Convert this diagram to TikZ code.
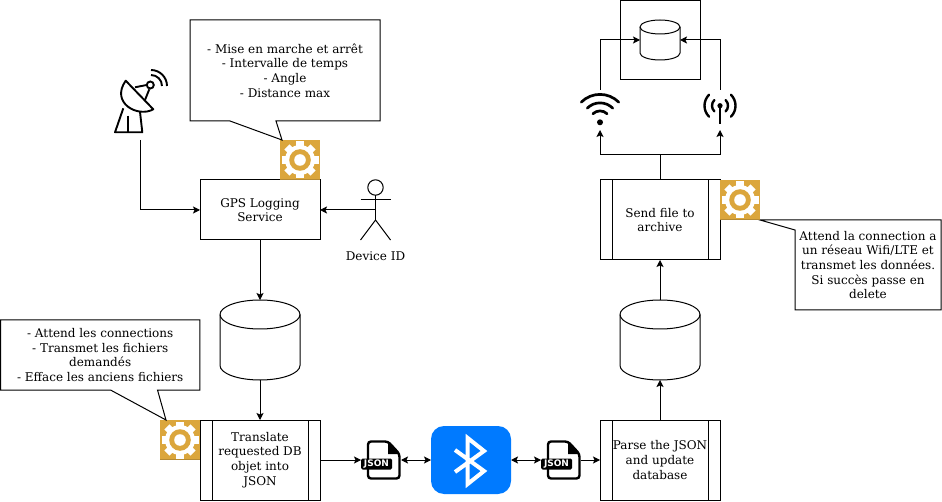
\documentclass[tikz,border=0pt]{standalone}
\usepackage{fontspec}
\setmainfont{DejaVu Serif}
\setsansfont{DejaVu Sans}
\usetikzlibrary{positioning,arrows.meta}
\definecolor{gearfill}{HTML}{DBA63C}
\definecolor{gearedge}{HTML}{B58A34}
\definecolor{btblue}{HTML}{007AFF}
\newcommand{\dbshape}[3]{
	\draw ([yshift=-#3]#1.north west) arc [start angle=180, end angle=0, x radius=#2, y radius=#3] -- ([yshift=#3]#1.south east) arc [start angle=0, end angle=-180, x radius=#2, y radius=#3] -- cycle;
	\draw ([yshift=-#3]#1.north west) arc [start angle=180, end angle=360, x radius=#2, y radius=#3];
}
\tikzset{
	>={Stealth[length=7pt,width=7pt,inset=1.5pt]},
	txt/.style={font=\fontsize{12}{14.7}\selectfont, align=center, inner sep=0pt, outer sep=0pt, execute at begin node={\rule{0pt}{11.5pt}}},
	plainbox/.style={txt, draw, minimum width=120pt, minimum height=60pt},
	procbox/.style={plainbox, minimum height=80pt, path picture={
		\draw ([xshift=12pt]path picture bounding box.north west) -- ([xshift=12pt]path picture bounding box.south west);
		\draw ([xshift=-12pt]path picture bounding box.north east) -- ([xshift=-12pt]path picture bounding box.south east);
	}},
	notebox/.style={txt},
	iconbox/.style={inner sep=0pt, outer sep=0pt, minimum width=#1, minimum height=40pt},
	dbbox/.style={iconbox=80pt, minimum height=80pt},
	gearbox/.style={inner sep=0pt, outer sep=0pt, minimum size=40pt, fill=gearfill},
	gearicon/.pic={
		\draw [gearedge] (-20,19.5) -- (20,19.5);
		\foreach \ang in {0,45,...,315}
			\fill [white, rotate=\ang] (-3.6,-18.5) rectangle (3.6,-12);
		\fill [white] (0,0) circle [radius=15pt];
		\fill [gearfill] (0,0) circle [radius=10.8pt];
		\fill [white] (0,0) circle [radius=5.8pt];
	},
	dishicon/.pic={
		\draw [line width=1.9pt, line join=round] (13.3,9.3) .. controls (-2,18) and (-30,3) .. (-14.3,-19.3) -- cycle;
		\draw [line width=1.9pt] (-5,-12.7) -- (6.7,-15);
		\draw [line width=1.9pt] (5,0) -- (9.3,-10.7);
		\draw [line width=1.9pt] (10.3,-15) circle [radius=3.5pt];
		\draw [line width=1.9pt, line join=round] (-16.7,8.3) -- (-25,32.3) -- (2.3,32.3) -- (0,11.7);
		\draw [line width=1.9pt] (-11.7,15.7) -- (-11.7,32.3);
		\foreach \rad in {11,16}
			\draw [line width=1.9pt] ([shift={(0:\rad pt)}]11,-14) arc [start angle=0, end angle=90, radius=\rad pt];
	},
	actoricon/.pic={
		\draw (0,-22.5) circle [radius=7.7pt];
		\draw (0,-14.8) -- (0,10);
		\draw (-15,-10) -- (15,-10);
		\draw (-15,30) -- (0,10) -- (15,30);
	},
	jsonicon/.pic={
		\draw [line width=2.4pt, rounded corners=3pt] (-13,-18.5) -- (7,-18.5) -- (18.5,-6) -- (18.5,18.5) -- (-13,18.5) -- cycle;
		\fill [line join=round] (7,-18.5) -- (7,-6) -- (18.5,-6) -- cycle;
		\node [fill=black, rounded corners=1.5pt, inner sep=0pt, minimum width=31pt, minimum height=11pt, text=white, font=\sffamily\bfseries\fontsize{9}{9}\selectfont] (tag) at (-4.5,4) {JSON};
	},
	bticon/.pic={
		\draw [white, line width=4pt, miter limit=4] (-16,-10) -- (13,11) -- (-3.3,24) -- (-3.3,-22) -- (13,-9) -- (-16,12);
	},
	wifiicon/.pic={
		\foreach \rad in {26.5,18,10}
			\draw [line width=2.7pt, line cap=round] ([shift={(45:\rad pt)}]0,10.9) arc [start angle=45, end angle=135, radius=\rad pt];
		\fill (0,12.3) circle [radius=3pt];
	},
	anticon/.pic={
		\foreach \rad in {8,15.5} {
			\draw [line width=2.4pt, line cap=round] ([shift={(-45:\rad pt)}]0,-4.3) arc [start angle=-45, end angle=45, radius=\rad pt];
			\draw [line width=2.4pt, line cap=round] ([shift={(135:\rad pt)}]0,-4.3) arc [start angle=135, end angle=225, radius=\rad pt];
		}
		\fill (0,-4.3) circle [radius=2.6pt];
		\draw [line width=2pt] (0,-4.3) -- (0,14);
	},
}

\begin{document}
\begin{tikzpicture}[x=1pt, y=-1pt, line width=1pt]
	\useasboundingbox (0,0) rectangle (942,502);

	\node [plainbox] (GPS) at (260,210) {GPS Logging\\Service};
	\node [dbbox, below=60pt of GPS] (DBa) {};
	\node [procbox, below=40pt of DBa] (translate) {Translate\\requested DB\\objet into\\JSON};
	\node [iconbox=40pt, right=41pt of translate] (jsonA) {};
	\node [iconbox=80pt, minimum height=68pt, fill=btblue, rounded corners=13pt, right=30pt of jsonA] (bt) {};
	\node [iconbox=40pt, right=30pt of bt] (jsonB) {};
	\node [procbox, right=19pt of jsonB] (parse) {Parse the JSON\\and update\\database};
	\node [dbbox, above=40pt of parse] (DBb) {};
	\node [procbox, above=40pt of DBb] (send) {Send file to\\archive};

	\node [gearbox, above left=0pt of GPS.north east] (gearA) {};
	\node [gearbox, below left=0pt of translate.north west] (gearB) {};
	\node [gearbox, below right=0pt of send.north east] (gearC) {};

	\node [iconbox=60pt, minimum height=80pt] (dish) at (140,100) {};
	\node [iconbox=30pt, minimum height=60pt] (actor) at (375.5,210) {};
	\node [txt, below=9pt of actor] (actorlabel) {Device ID};

	\node [iconbox=40pt] (wifi) at (600,110) {};
	\node [iconbox=40pt] (antenna) at (720,110) {};
	\node [draw, minimum width=80pt, minimum height=79.4pt, inner sep=0pt, outer sep=0pt] (archive) at (660,40) {};
	\node [iconbox=40pt] (DBc) at (archive) {};
	\coordinate (split) at (660,155);

	\node [notebox, minimum width=190pt, minimum height=101pt] (noteA) at (285,70.5) {- Mise en marche et arrêt\\- Intervalle de temps\\- Angle\\- Distance max};
	\node [notebox, minimum width=199.4pt, minimum height=70pt] (noteB) at (100.2,355) {- Attend les connections\\- Transmet les fichiers\\demandés\\- Efface les anciens fichiers};
	\node [notebox, minimum width=146pt, minimum height=90pt] (noteC) at (868,265) {Attend la connection a\\un réseau Wifi/LTE et\\transmet les données.\\Si succès passe en\\delete};

	\draw (noteA.south west) -- (noteA.north west) -- (noteA.north east) -- (noteA.south east) -- ([xshift=86pt]noteA.south west) -- ([xshift=2pt]gearA.north west) -- ([xshift=40pt]noteA.south west) -- cycle;
	\draw (noteB.south west) -- (noteB.north west) -- (noteB.north east) -- (noteB.south east) -- ([xshift=157pt]noteB.south west) -- ([xshift=6pt]gearB.north west) -- ([xshift=110pt]noteB.south west) -- cycle;
	\draw (gearC.south east) -- (noteC.north east) -- (noteC.south east) -- (noteC.south west) -- ([yshift=-10pt]noteC.north west) -- cycle;

	\dbshape{DBa}{40pt}{14.5pt}
	\dbshape{DBb}{40pt}{14.5pt}
	\dbshape{DBc}{20pt}{7pt}

	\pic at (gearA) {gearicon};
	\pic at (gearB) {gearicon};
	\pic at (gearC) {gearicon};
	\pic at (dish) {dishicon};
	\pic at (actor) {actoricon};
	\pic (jsonA) at (jsonA) {jsonicon};
	\pic (jsonB) at (jsonB) {jsonicon};
	\pic at (bt) {bticon};
	\pic at (wifi) {wifiicon};
	\pic at (antenna) {anticon};

	\draw [->] (dish.south) |- (GPS.west);
	\draw [->] (actor.center) to (GPS);
	\draw [->] (GPS) to (DBa);
	\draw [->] (DBa) to (translate);
	\draw [->] (translate) to (jsonA);
	\draw [<->] (jsonA) to (bt);
	\draw [<->] (bt) to (jsonB);
	\draw [->] (jsonB) to (parse);
	\draw [->] (parse) to (DBb);
	\draw [->] (DBb) to (send);
	\draw (send) to (split);
	\draw [->] (split) -| (wifi.south);
	\draw [->] (split) -| (antenna.south);
	\draw [->] (wifi.north) |- (DBc);
	\draw [->] (antenna.north) |- (DBc);
\end{tikzpicture}
\end{document}
